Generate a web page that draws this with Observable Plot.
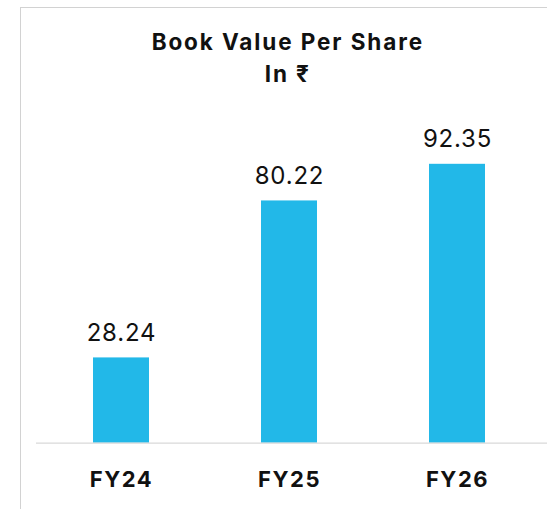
<!DOCTYPE html>
<html><head><meta charset="utf-8">
<script src="https://cdn.jsdelivr.net/npm/d3@7"></script>
<script src="https://cdn.jsdelivr.net/npm/@observablehq/plot@0.6"></script>
<style>
html,body{margin:0;padding:0;background:#fff;overflow:hidden}
#wrap{position:relative;width:547px;height:509px;font-family:Inter,"Noto Sans",sans-serif;color:#111;overflow:hidden}
#frame{position:absolute;left:20px;top:6.5px;width:700px;height:700px;border:1.5px solid #d2d2d2;box-sizing:border-box}
.t{position:absolute;left:1px;width:573.6px;text-align:center;font-size:22.5px;font-weight:700;line-height:1.21;white-space:nowrap;letter-spacing:1.9px}
#chart{position:absolute;left:0;top:100px}
</style></head>
<body>
<div id="wrap">
  <div id="frame"></div>
  <div class="t" id="t1" style="top:28.2px">Book Value Per Share</div>
  <div class="t" id="t2" style="top:59.9px">In ₹</div>
  <div id="chart"></div>
</div>
<script>
const categories = ["FY24", "FY25", "FY26"];
const values = [28.24, 80.22, 92.35];
const valueLabels = ["28.24", "80.22", "92.35"];

const data = categories.map((c, i) => ({cat: c, value: values[i], label: valueLabels[i]}));

const chart = Plot.plot({
  width: 547,
  height: 409,
  marginTop: 40.7,
  marginBottom: 66.3,
  marginLeft: 36,
  marginRight: 0,
  style: {fontFamily: 'Inter,"Noto Sans",sans-serif', background: "transparent", color: "#111", overflow: "visible"},
  x: {domain: categories, range: [36, 541], paddingInner: 0.668, paddingOuter: 0.33, label: null},
  y: {domain: [0, 100], axis: null},
  marks: [
    Plot.barY(data, {x: "cat", y: "value", fill: "#22b8e8"}),
    Plot.ruleY([0], {stroke: "#d9d9d9", strokeWidth: 1.2}),
    Plot.text(data, {x: "cat", y: "value", text: "label", dy: -24.7, fontSize: 24, fill: "#111"}),
    Plot.axisX({tickSize: 0, tickPadding: 27.7, fontSize: 22, fontWeight: 700, fill: "#111", label: null})
  ]
});
chart.querySelectorAll('[aria-label="x-axis tick label"] text').forEach(t => {
  t.setAttribute("font-weight", 700);
  t.style.letterSpacing = "1.5px";
});
chart.querySelectorAll('[aria-label="text"] text').forEach(t => {
  t.style.letterSpacing = "0.8px";
});
document.getElementById("chart").appendChild(chart);
</script>
</body></html>
